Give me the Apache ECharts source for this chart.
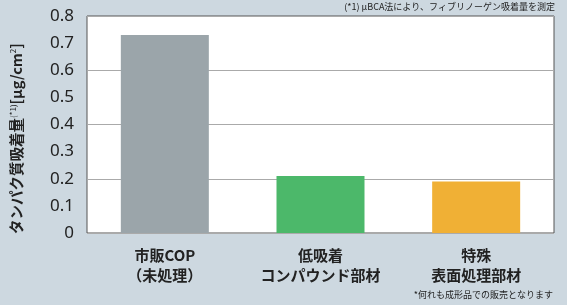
<!DOCTYPE html>
<html><head><meta charset="utf-8">
<script src="https://cdn.jsdelivr.net/npm/echarts@6/dist/echarts.min.js"></script>
<style>html,body{margin:0;padding:0;background:#cdd8e0}#c{width:567px;height:305px}</style>
</head><body><div id="c"></div>
<script>
const categories = ['市販COP\n（未処理）', '低吸着\nコンパウンド部材', '特殊\n表面処理部材'];
const values = [0.73, 0.21, 0.19];
const barColors = ['#9ba5aa', '#4cb86a', '#f0b035'];
const yTicks = [0, 0.1, 0.2, 0.3, 0.4, 0.5, 0.6, 0.7, 0.8];
const topNote = '(*1) μBCA法により、フィブリノーゲン吸着量を測定';
const bottomNote = '*何れも成形品での販売となります';

const chart = echarts.init(document.getElementById('c'));
const font = '"Noto Sans CJK JP", "Noto Sans", sans-serif';
chart.setOption({
  backgroundColor: '#cdd8e0',
  animation: false,
  grid: { left: 87, right: 13, top: 16, bottom: 72, backgroundColor: '#fff', show: true, borderColor: '#555', borderWidth: 1 },
  xAxis: {
    type: 'category', data: categories,
    axisLine: { show: false }, axisTick: { show: false },
    axisLabel: { interval: 0, color: '#222', fontSize: 15, fontWeight: 'bold', fontFamily: font, lineHeight: 20, margin: 12 }
  },
  yAxis: [{
    type: 'value', min: 0, max: 0.8, interval: 0.1,
    axisLine: { show: false }, axisTick: { show: false }, splitLine: { show: false },
    axisLabel: { color: '#222', fontSize: 17, fontFamily: '"Noto Sans", sans-serif', margin: 13,
      formatter: v => yTicks.includes(Math.round(v*10)/10) ? (v === 0 ? '0' : v.toFixed(1)) : '' }
  }, {
    type: 'value', min: 0, max: 0.8, interval: 0.2, position: 'left',
    axisLine: { show: false }, axisTick: { show: false }, axisLabel: { show: false },
    splitLine: { show: true, lineStyle: { color: '#aaa', width: 1 } }
  }],
  series: [{
    type: 'bar', barWidth: 88,
    data: values.map((v, i) => ({ value: v, itemStyle: { color: barColors[i] } }))
  }],
  graphic: [
    { type: 'text', right: 12, top: 2, style: { text: topNote, fontSize: 9, fill: '#222', fontFamily: font } },
    { type: 'text', right: 14, top: 290, style: { text: bottomNote, fontSize: 9, fill: '#222', fontFamily: font } },
    { type: 'text', x: 9, y: 234, rotation: Math.PI/2,
      style: { text: '{a|タンパク質吸着量}{s|(*1)}{a|[μg/cm}{s|2}{a|]}', fill: '#222', verticalAlign: 'top', align: 'left',
        rich: { a: { fontSize: 14.5, fontWeight: 'bold', fontFamily: font, fill: '#222' },
                s: { fontSize: 8, fontFamily: font, fill: '#222', verticalAlign: 'top', padding: [0,0,6,0] } } } }
  ]
});
</script></body></html>
